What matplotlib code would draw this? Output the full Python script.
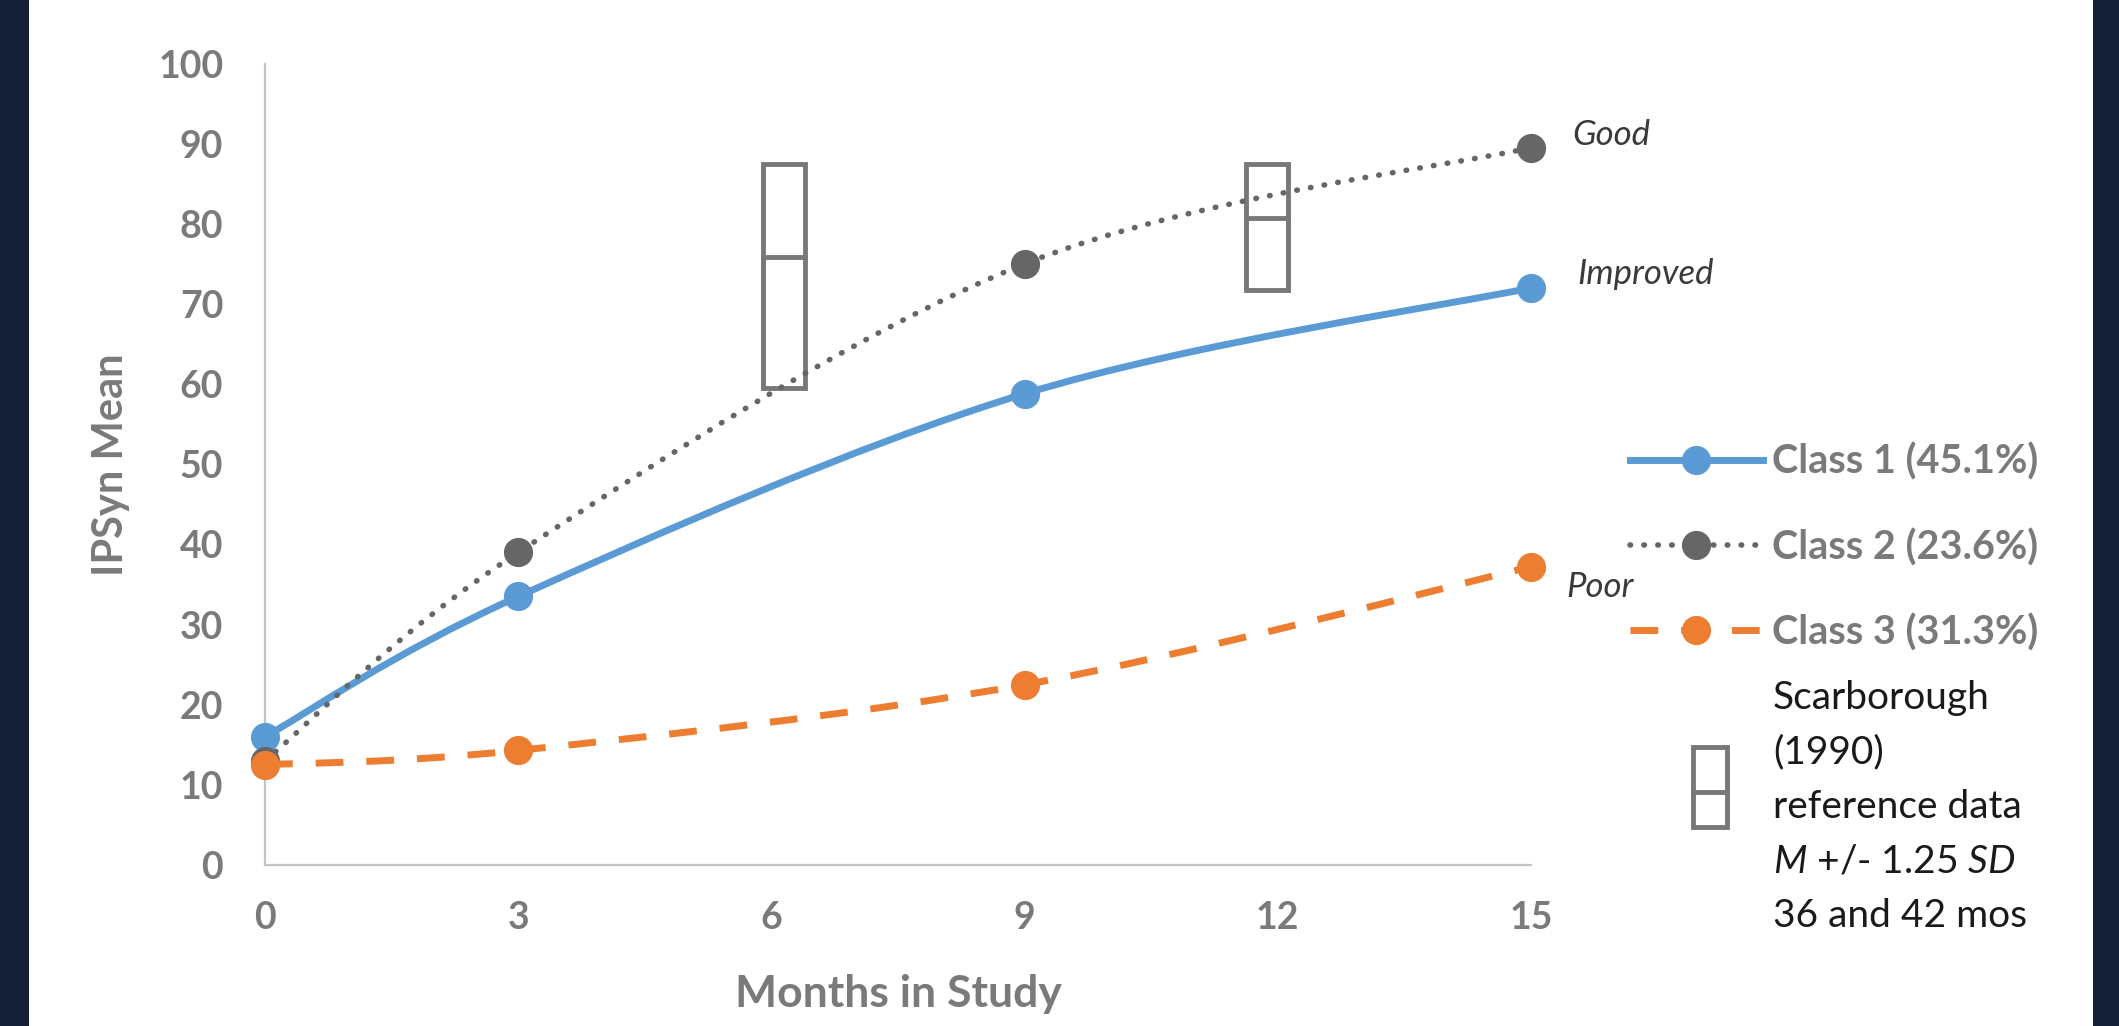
import matplotlib
matplotlib.use("Agg")
import matplotlib.pyplot as plt
import numpy as np
from matplotlib.path import Path
from matplotlib.patches import PathPatch, Rectangle
from matplotlib.lines import Line2D

plt.rcParams['font.family'] = ['Lato', 'DejaVu Sans']
plt.rcParams['mathtext.fontset'] = 'custom'
plt.rcParams['mathtext.rm'] = 'Lato'
plt.rcParams['mathtext.it'] = 'Lato:italic'

# data
months = [0, 3, 9, 15]
class1 = [16.0, 33.5, 58.8, 72.0]
class2 = [13.0, 39.0, 75.0, 89.5]
class3 = [12.5, 14.3, 22.5, 37.2]
labels = ["Class 1 (45.1%)", "Class 2 (23.6%)", "Class 3 (31.3%)"]
end_names = ["Improved", "Good", "Poor"]

# Scarborough (1990) reference boxes
box_x = [6.15, 11.87]
box_lo = [59.5, 71.7]
box_mid = [75.8, 80.7]
box_hi = [87.4, 87.4]

blue = "#5b9bd5"
gray = "#666666"
orange = "#ed7d31"
txt_gray = "#7a7a7a"
box_col = "#787878"


def smooth_path(x, y):
    # excel style smoothed line: cubic bezier through the points
    x = np.asarray(x, float)
    y = np.asarray(y, float)
    px = np.concatenate([[x[0]], x, [x[-1]]])
    py = np.concatenate([[y[0]], y, [y[-1]]])
    verts = [(x[0], y[0])]
    codes = [Path.MOVETO]
    for i in range(len(x) - 1):
        j = i + 1
        c1 = (px[j] + (px[j + 1] - px[j - 1]) / 6, py[j] + (py[j + 1] - py[j - 1]) / 6)
        c2 = (px[j + 1] - (px[j + 2] - px[j]) / 6, py[j + 1] - (py[j + 2] - py[j]) / 6)
        verts += [c1, c2, (px[j + 1], py[j + 1])]
        codes += [Path.CURVE4] * 3
    return Path(verts, codes)


W, H = 2119, 1026
fig = plt.figure(figsize=(W / 100, H / 100), dpi=100)
fig.patch.set_facecolor("#152036")
fig.add_artist(Rectangle((29 / W, 0), (2093 - 29) / W, 1, transform=fig.transFigure,
                         facecolor="white", edgecolor="none", zorder=0))

ax = fig.add_axes([265 / W, 1 - 865 / H, (1531 - 265) / W, (865 - 63.5) / H])
ax.set_facecolor("none")
ax.set_xlim(0, 15)
ax.set_ylim(0, 100)
ax.set_xticks([0, 3, 6, 9, 12, 15])
ax.set_yticks(range(0, 101, 10))
for s in ["top", "right"]:
    ax.spines[s].set_visible(False)
for s in ["left", "bottom"]:
    ax.spines[s].set_color("#c4c4c4")
    ax.spines[s].set_linewidth(1.6)
ax.tick_params(length=0, labelsize=27, labelcolor=txt_gray)
ax.tick_params(axis="y", pad=30)
ax.tick_params(axis="x", pad=26)
for t in ax.get_xticklabels() + ax.get_yticklabels():
    t.set_fontweight("bold")
ax.set_xlabel("Months in Study", fontsize=32, fontweight="bold", color=txt_gray, labelpad=28)
ax.set_ylabel("IPSyn Mean", fontsize=30, fontweight="bold", color=txt_gray, labelpad=20)

# reference boxes
for bx, lo, mid, hi in zip(box_x, box_lo, box_mid, box_hi):
    ax.add_patch(Rectangle((bx - 0.25, lo), 0.5, hi - lo, fill=False,
                           edgecolor=box_col, linewidth=3.5, zorder=2))
    ax.plot([bx - 0.25, bx + 0.25], [mid, mid], color=box_col, linewidth=3.5, zorder=2)

styles = [
    dict(color=blue, lw=5, ls="-", cap="round"),
    dict(color=gray, lw=4, ls=(0, (0.1, 2.4)), cap="round"),
    dict(color=orange, lw=5, ls=(0, (4, 3.3)), cap="butt"),
]
handles = []
for i, (ys, st) in enumerate(zip([class1, class2, class3], styles)):
    ax.add_patch(PathPatch(smooth_path(months, ys), fill=False, edgecolor=st["color"],
                           linewidth=st["lw"], linestyle=st["ls"], capstyle=st["cap"],
                           zorder=3 + i, clip_on=False))
    ax.plot(months, ys, "o", color=st["color"], markersize=20, zorder=3 + i, clip_on=False)
    handles.append(Line2D([], [], color=st["color"], lw=st["lw"], ls=st["ls"],
                          marker="o", markersize=20, dash_capstyle=st["cap"]))

# end-of-line names
offs = [(46, 14), (41, 13), (35, -20)]
for name, ys, off in zip(end_names, [class1, class2, class3], offs):
    ax.annotate(name, (months[-1], ys[-1]), xytext=off, textcoords="offset pixels",
                fontsize=25, style="italic", color="#3a3a3a", va="center", ha="left",
                annotation_clip=False)

leg = fig.legend(handles, labels, loc="upper left", bbox_to_anchor=(1630 / W, 1 - 443 / H),
                 frameon=False, borderpad=0, borderaxespad=0, handlelength=3.35,
                 handletextpad=0.25, labelspacing=1.19, numpoints=1,
                 prop=dict(size=28.5, weight="bold"))
for t in leg.get_texts():
    t.set_color(txt_gray)

# Scarborough legend entry
fig.add_artist(Rectangle((1693 / W, 1 - 827 / H), 34 / W, 80 / H, transform=fig.transFigure,
                         fill=False, edgecolor=box_col, linewidth=3.5))
fig.add_artist(Line2D([1693 / W, 1727 / W], [1 - 792 / H, 1 - 792 / H], transform=fig.transFigure,
                      color=box_col, linewidth=3.5))
note = ["Scarborough", "(1990)", "reference data", r"$\mathit{M}$ +/- 1.25 $\mathit{SD}$",
        "36 and 42 mos"]
for k, line in enumerate(note):
    fig.text(1773 / W, 1 - (698 + 54.5 * k) / H, line, fontsize=28, color="#1a1a1a",
             va="center", ha="left")

fig.savefig("out.png", dpi=100, facecolor=fig.get_facecolor())
